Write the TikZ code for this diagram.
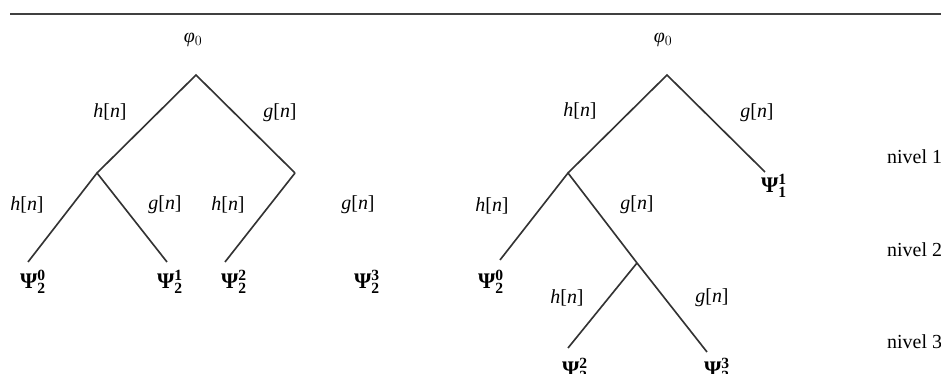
\documentclass[tikz,border=0pt]{standalone}
\usepackage{fontspec}
\setmainfont{Liberation Serif}
\newcommand\psilab[2]{{\fontsize{19}{22}\selectfont\textbf{Ψ}$^{\mathbf{#1}}_{\mathbf{#2}}$}}
\newcommand\filt[1]{\textit{#1}[\textit{n}]}
\newcommand\phizero{\textit{φ}$_0$}

\begin{document}
\begin{tikzpicture}[x=0.03cm,y=0.03cm,font=\fontsize{17}{20}\selectfont,
  branch/.style={line width=1.4pt,black!80},
  lbl/.style={inner sep=0pt},
  leaf/.style={inner sep=0pt}]
\useasboundingbox (0,0) rectangle (941,374);
\draw[line width=1.5pt,black!75] (10,360) -- (941,360);

% left tree
\coordinate (L) at (196,299);
\coordinate (La) at (97,201);
\coordinate (Lb) at (295,201);
\coordinate (La1) at (28,112);
\coordinate (La2) at (167,112);
\coordinate (Lb1) at (225,112);
\draw[branch] (La) -- (L) -- (Lb);
\draw[branch] (La1) -- (La) -- (La2);
\draw[branch] (Lb1) -- (Lb);

\node[lbl] (phiL) at (193,334) {\phizero};
\node[lbl] (hL) at (110,262) {\filt{h}};
\node[lbl] (gL) at (280,261) {\filt{g}};
\node[lbl] (hLa) at (27,169) {\filt{h}};
\node[lbl] (gLa) at (165,169) {\filt{g}};
\node[lbl] (hLb) at (228,169) {\filt{h}};
\node[lbl] (gLb) at (358,169) {\filt{g}};

\foreach \x/\k in {33/0,170/1,234/2,367/3}
  \node[leaf] (psiL\k) at (\x,92) {\psilab{\k}{2}};

% right tree
\coordinate (R) at (667,299);
\coordinate (Ra) at (568,201);
\coordinate (Rb) at (765,202);
\coordinate (Ra1) at (500,114);
\coordinate (Re) at (637,111);
\coordinate (Re1) at (568,26);
\coordinate (Re2) at (707,22);
\draw[branch] (Ra) -- (R) -- (Rb);
\draw[branch] (Ra1) -- (Ra) -- (Re) -- (Re2);
\draw[branch] (Re1) -- (Re);

\node[lbl] (phiR) at (663,334) {\phizero};
\node[lbl] (hR) at (580,263) {\filt{h}};
\node[lbl] (gR) at (757,261) {\filt{g}};
\node[lbl] (hRa) at (492,168) {\filt{h}};
\node[lbl] (gRa) at (637,169) {\filt{g}};
\node[lbl] (hRe) at (567,76) {\filt{h}};
\node[lbl] (gRe) at (712,76) {\filt{g}};

\node[leaf] (psiR11) at (774,188) {\psilab{1}{1}};
\node[leaf] (psiR20) at (491,92) {\psilab{0}{2}};
\node[leaf] (psiR32) at (575,4) {\psilab{2}{3}};
\node[leaf] (psiR33) at (717,4) {\psilab{3}{3}};

% levels
\foreach \k/\y in {1/217,2/124,3/32}
  \node[lbl,anchor=west] (niv\k) at (887,\y) {nivel \k};
\end{tikzpicture}
\end{document}
